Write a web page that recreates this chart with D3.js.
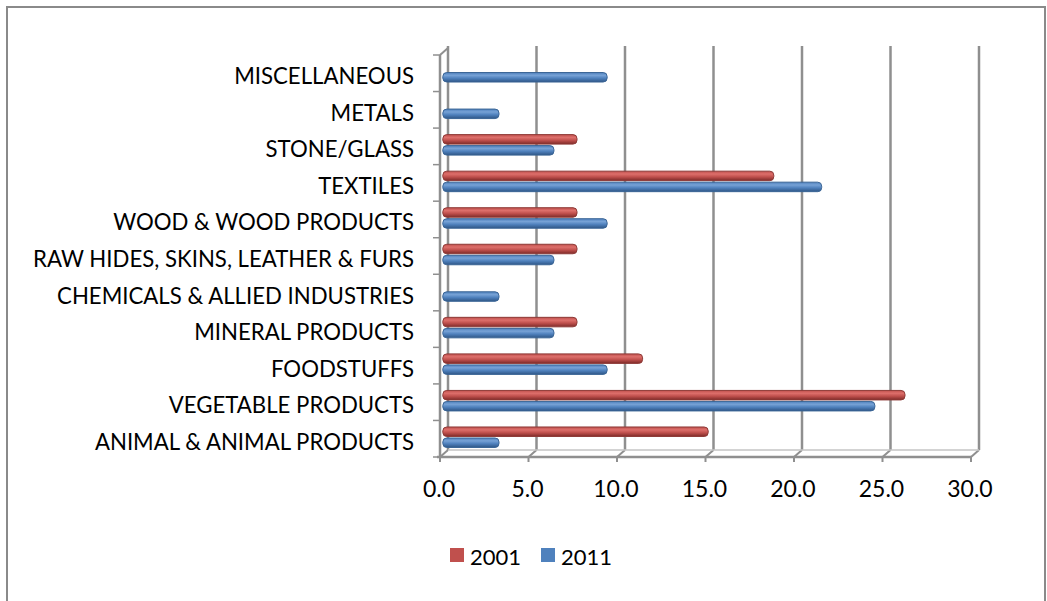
<!DOCTYPE html>
<html>
<head>
<meta charset="utf-8">
<script src="https://cdn.jsdelivr.net/npm/d3@7"></script>
<style>
  html, body { margin: 0; padding: 0; background: #fff; }
  svg { display: block; }
  text { font-family: Lato, "Open Sans", sans-serif; fill: #000; }
</style>
</head>
<body>
<svg id="chart" width="1047" height="601"></svg>
<script>
// Share of products by section, in percent (top row first)
const categories = [
  "MISCELLANEOUS",
  "METALS",
  "STONE/GLASS",
  "TEXTILES",
  "WOOD & WOOD PRODUCTS",
  "RAW HIDES, SKINS, LEATHER & FURS",
  "CHEMICALS & ALLIED INDUSTRIES",
  "MINERAL PRODUCTS",
  "FOODSTUFFS",
  "VEGETABLE PRODUCTS",
  "ANIMAL & ANIMAL PRODUCTS"
];
const values2001 = [0, 0, 7.4, 18.5, 7.4, 7.4, 0, 7.4, 11.1, 25.9, 14.8];
const values2011 = [9.1, 3.0, 6.1, 21.2, 9.1, 6.1, 3.0, 6.1, 9.1, 24.2, 3.0];
const seriesNames = ["2001", "2011"];
const xTicks = [0, 5, 10, 15, 20, 25, 30];

const seriesColors = { "2001": "#c0504d", "2011": "#4f81bd" };

const svg = d3.select("#chart");

// outer chart frame
svg.append("rect")
  .attr("x", 7).attr("y", 7)
  .attr("width", 1038).attr("height", 620)
  .attr("fill", "#fff")
  .attr("stroke", "#8a8a8a")
  .attr("stroke-width", 2);

// front value scale, and depth offset of the 3-D box
const x = d3.scaleLinear().domain([0, 30]).range([440, 971]);
const depthX = 8, depthY = -7;
const plotTop = 55, plotBottom = 457;

const y = d3.scaleBand().domain(categories).range([plotTop, plotBottom]);

// bars sit halfway into the depth of the box
const xBar = d3.scaleLinear().domain([0, 30]).range([445.8, 445.8 + 30 * 17.73]);

const defs = svg.append("defs");
function barGradient(id, light, mid, dark) {
  const g = defs.append("linearGradient")
    .attr("id", id).attr("x1", 0).attr("y1", 0).attr("x2", 0).attr("y2", 1);
  g.append("stop").attr("offset", "0%").attr("stop-color", mid);
  g.append("stop").attr("offset", "30%").attr("stop-color", light);
  g.append("stop").attr("offset", "60%").attr("stop-color", mid);
  g.append("stop").attr("offset", "100%").attr("stop-color", dark);
}
barGradient("grad2001", "#dd6f6b", "#c0504d", "#7e2b29");
barGradient("grad2011", "#77a2d6", "#4f81bd", "#2f5686");

const gridColor = "#8f8f8f";
const grid = svg.append("g");

// back-wall gridlines with their short links down to the front edge
xTicks.forEach(t => {
  const xb = x(t) + depthX;
  grid.append("line")
    .attr("x1", xb).attr("x2", xb)
    .attr("y1", plotTop + depthY - 2).attr("y2", plotBottom + depthY)
    .attr("stroke", gridColor).attr("stroke-width", 2.5);
  grid.append("line")
    .attr("x1", xb).attr("y1", plotBottom + depthY)
    .attr("x2", x(t)).attr("y2", plotBottom)
    .attr("stroke", gridColor).attr("stroke-width", 2);
  grid.append("line")
    .attr("x1", x(t)).attr("x2", x(t))
    .attr("y1", plotBottom).attr("y2", plotBottom + 5)
    .attr("stroke", gridColor).attr("stroke-width", 2);
});

// floor edges
grid.append("line")
  .attr("x1", x(0) - 3).attr("x2", x(30))
  .attr("y1", plotBottom).attr("y2", plotBottom)
  .attr("stroke", gridColor).attr("stroke-width", 2.5);
grid.append("line")
  .attr("x1", x(0) + depthX).attr("x2", x(30) + depthX)
  .attr("y1", plotBottom + depthY).attr("y2", plotBottom + depthY)
  .attr("stroke", "#c4c4c4").attr("stroke-width", 1.5);

// left wall: front axis line, top edge and category ticks
grid.append("line")
  .attr("x1", x(0)).attr("x2", x(0))
  .attr("y1", plotTop).attr("y2", plotBottom)
  .attr("stroke", gridColor).attr("stroke-width", 2.5);
grid.append("line")
  .attr("x1", x(0)).attr("y1", plotTop)
  .attr("x2", x(0) + depthX).attr("y2", plotTop + depthY)
  .attr("stroke", gridColor).attr("stroke-width", 2);
const catEdges = categories.map(c => y(c)).concat([plotBottom]);
catEdges.forEach(e => {
  grid.append("line")
    .attr("x1", x(0) - 7).attr("x2", x(0))
    .attr("y1", e).attr("y2", e)
    .attr("stroke", gridColor).attr("stroke-width", 1.5);
});

// bars
const barH = 9.5, barGap = 1.5;
const rows = categories.map((c, i) => ({ c, v: [values2001[i], values2011[i]] }));
const barG = svg.append("g");
rows.forEach(r => {
  const mid = y(r.c) + y.bandwidth() / 2 - 1.5;
  r.v.forEach((v, k) => {
    if (v <= 0) return;
    const top = k === 0 ? mid - barGap / 2 - barH : mid + barGap / 2;
    const left = xBar(0) - 3;
    barG.append("rect")
      .attr("x", left)
      .attr("y", top)
      .attr("width", xBar(v) - left)
      .attr("height", barH)
      .attr("rx", 4).attr("ry", 4)
      .attr("fill", `url(#grad${seriesNames[k]})`)
      .attr("stroke", k === 0 ? "#8e3a37" : "#3a6596")
      .attr("stroke-width", 1);
  });
});

// category labels
svg.append("g").selectAll("text")
  .data(categories)
  .join("text")
  .attr("x", 414)
  .attr("y", d => y(d) + y.bandwidth() / 2 + 11)
  .attr("text-anchor", "end")
  .attr("font-size", 22.2)
  .text(d => d);

// value axis labels
svg.append("g").selectAll("text")
  .data(xTicks)
  .join("text")
  .attr("x", d => x(d) - 1)
  .attr("y", 497)
  .attr("text-anchor", "middle")
  .attr("font-size", 23)
  .text(d => d3.format(".1f")(d));

// legend
const legend = svg.append("g");
const legendItems = [
  { name: seriesNames[0], x: 450, tx: 470 },
  { name: seriesNames[1], x: 541, tx: 561 }
];
legendItems.forEach(it => {
  legend.append("rect")
    .attr("x", it.x).attr("y", 548)
    .attr("width", 14).attr("height", 14)
    .attr("fill", seriesColors[it.name]);
  legend.append("text")
    .attr("x", it.tx).attr("y", 565)
    .attr("font-size", 22)
    .text(it.name);
});
</script>
</body>
</html>
